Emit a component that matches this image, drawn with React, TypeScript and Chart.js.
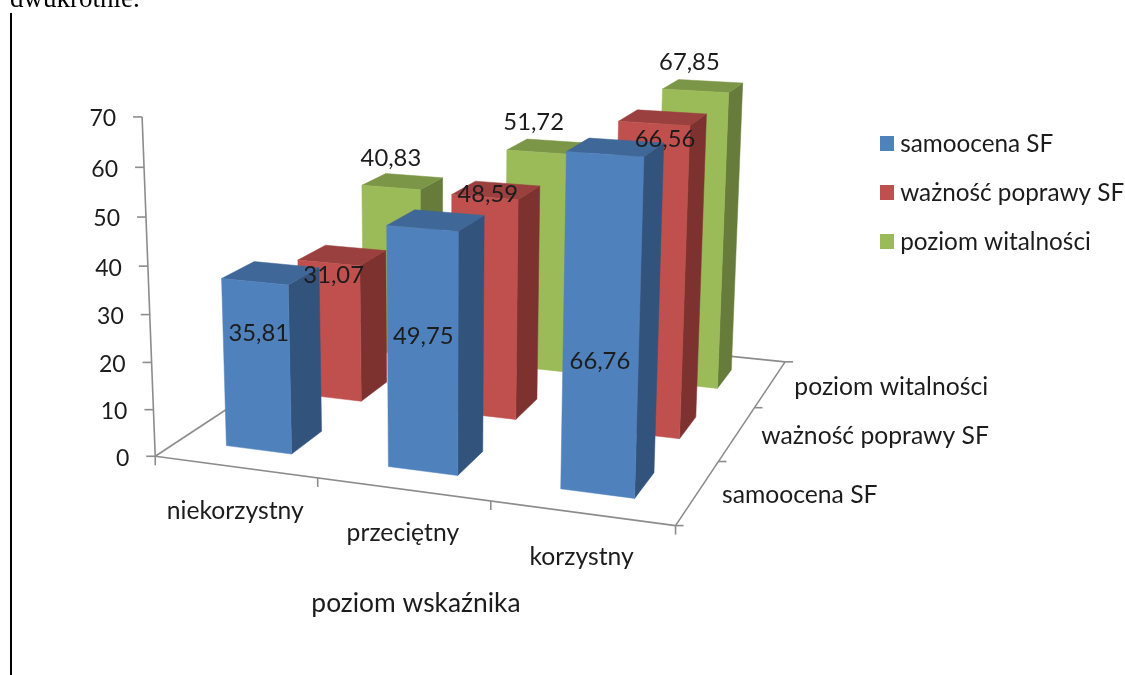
import React, { useEffect, useRef } from "react";
import { Chart, registerables } from "chart.js";
Chart.register(...registerables);

const categories = ["niekorzystny", "przeciętny", "korzystny"];
const seriesNames = ["samoocena SF", "ważność poprawy SF", "poziom witalności"];
const samoocena = [35.81, 49.75, 66.76];
const waznosc = [31.07, 48.59, 66.56];
const witalnosc = [40.83, 51.72, 67.85];
const axisTitle = "poziom wskaźnika";

const FRONT = ["#4F81BD", "#C0504D", "#9BBB59"];
const TOP = ["#3F6797", "#9A403E", "#7C9647"];
const SIDE = ["#32537C", "#7E3230", "#677C3B"];
const BAR = 0.41;
const FONT = "Lato";
const INK = "#1c1c1c";

// Camera of the 3-D scene: maps (category decimal, depth decimal, value decimal) to pixels / 1000.
const CAMERA = [
  0.45823, 0.30364, -0.01946, 0.15524,
  0.02102, -0.05459, -0.34455, 0.45627,
  -0.09189, 0.26003, -0.04443,
];
const proj = (x: number, y: number, z: number): [number, number] => {
  const P = CAMERA;
  const w = P[8] * x + P[9] * y + P[10] * z + 1;
  return [
    (1000 * (P[0] * x + P[1] * y + P[2] * z + P[3])) / w,
    (1000 * (P[4] * x + P[5] * y + P[6] * z + P[7])) / w,
  ];
};

// Where each value label sits, relative to the top of its bar's front face.
const labelShift = [
  [[4, 52], [1, 108], [-5, 207]],
  [[5, 12], [3, -3], [11, 16]],
  [[0, -29], [-4, -30], [-6, -29]],
];

const swatch = (color: string) => {
  const c = document.createElement("canvas");
  c.width = 14;
  c.height = 15;
  const g = c.getContext("2d")!;
  g.fillStyle = color;
  g.fillRect(0, 0, 14, 15);
  return c;
};

const scene = {
  id: "scene",
  beforeDraw(chart: any) {
    const lg = chart.legend;
    lg.left = 885 - 24.7;
    lg.right = 1125;
    lg.top = 107;
    lg.bottom = 290;
  },
  beforeDatasetsDraw(chart: any) {
    const ctx = chart.ctx as CanvasRenderingContext2D;
    const xs = chart.scales.x, ys = chart.scales.y;
    const line = (a: [number, number], b: [number, number]) => {
      ctx.beginPath(); ctx.moveTo(a[0], a[1]); ctx.lineTo(b[0], b[1]); ctx.stroke();
    };
    const poly = (pts: [number, number][], col: string) => {
      ctx.fillStyle = col; ctx.strokeStyle = col; ctx.lineWidth = 0.5;
      ctx.beginPath(); pts.forEach((p, i) => (i ? ctx.lineTo(p[0], p[1]) : ctx.moveTo(p[0], p[1])));
      ctx.closePath(); ctx.fill(); ctx.stroke();
    };
    ctx.save();
    ctx.strokeStyle = "#8C8C8C"; ctx.lineWidth = 1.6;
    line(proj(0, 0, 0), proj(1, 0, 0));
    line(proj(1, 0, 0), proj(1, 1, 0));
    line(proj(1, 1, 0), proj(0, 1, 0));
    line(proj(0, 1, 0), proj(0, 0, 0));
    line(proj(0, 0, 0), proj(0, 0, 1));
    const tickLeft = (p: [number, number], l = 9) => line(p, [p[0] - l, p[1]]);
    const tickRight = (p: [number, number], l = 8) => line(p, [p[0] + l, p[1]]);
    const tickDown = (p: [number, number], l = 9) => line(p, [p[0], p[1] + l]);
    ys.ticks.forEach((t: any) => tickLeft(proj(0, 0, ys.getDecimalForPixel(ys.getPixelForValue(t.value)))));
    for (let i = 0; i <= 3; i++) tickDown(proj(i / 3, 0, 0));
    for (let i = 0; i <= 3; i++) tickRight(proj(1, i / 3, 0));

    const half = BAR / 2 / 3;
    for (let s = 2; s >= 0; s--) {
      const meta = chart.getDatasetMeta(s);
      categories.forEach((_, c) => {
        const cx = xs.getDecimalForPixel(xs.getPixelForValue(c));
        const cy = (s + 0.5) / 3;
        const h = ys.getDecimalForPixel(meta.data[c].y);
        const x0 = cx - half, x1 = cx + half, y0 = cy - half, y1 = cy + half;
        poly([proj(x1, y0, 0), proj(x1, y1, 0), proj(x1, y1, h), proj(x1, y0, h)], SIDE[s]);
        poly([proj(x0, y0, h), proj(x1, y0, h), proj(x1, y1, h), proj(x0, y1, h)], TOP[s]);
        poly([proj(x0, y0, 0), proj(x1, y0, 0), proj(x1, y0, h), proj(x0, y0, h)], FRONT[s]);
      });
    }

    ctx.fillStyle = INK;
    ctx.textBaseline = "middle";
    ctx.font = `23px ${FONT}`;
    ctx.textAlign = "right";
    ys.ticks.forEach((t: any) => {
      const p = proj(0, 0, ys.getDecimalForPixel(ys.getPixelForValue(t.value)));
      ctx.fillText(String(t.value), p[0] - 26, p[1] + 2);
    });
    ctx.font = `24.7px ${FONT}`;
    ctx.textAlign = "center";
    categories.forEach((name, c) => {
      const p = proj(xs.getDecimalForPixel(xs.getPixelForValue(c)), 0, 0);
      ctx.fillText(name, p[0], p[1] + 44);
    });
    ctx.textAlign = "left";
    seriesNames.forEach((name, s) => {
      const p = proj(1, (s + 0.5) / 3, 0);
      ctx.fillText(name, p[0] + 24, p[1] + 3);
    });
    ctx.textAlign = "center";
    ctx.font = `26.4px ${FONT}`;
    ctx.fillText(axisTitle, 416, 603);
    ctx.font = `23.8px ${FONT}`;
    for (let s = 0; s < 3; s++) {
      const meta = chart.getDatasetMeta(s);
      categories.forEach((_, c) => {
        const cx = xs.getDecimalForPixel(xs.getPixelForValue(c));
        const cy = (s + 0.5) / 3;
        const h = ys.getDecimalForPixel(meta.data[c].y);
        const p = proj(cx, cy - half, h);
        const [dx, dy] = labelShift[s][c];
        const v = chart.data.datasets[s].data[c] as number;
        ctx.fillText(v.toFixed(2).replace(".", ","), p[0] + dx, p[1] + dy);
      });
    }
    ctx.restore();
    return false;
  },
};

export default function App() {
  const ref = useRef<HTMLCanvasElement>(null);
  useEffect(() => {
    const chart = new Chart(ref.current!, {
      type: "bar",
      data: {
        labels: categories,
        datasets: [
          { label: seriesNames[0], data: samoocena, backgroundColor: FRONT[0] },
          { label: seriesNames[1], data: waznosc, backgroundColor: FRONT[1] },
          { label: seriesNames[2], data: witalnosc, backgroundColor: FRONT[2] },
        ],
      },
      options: {
        animation: false,
        responsive: false,
        scales: {
          x: { display: false },
          y: { display: false, min: 0, max: 70, ticks: { stepSize: 10 } },
        },
        plugins: {
          legend: {
            position: "right",
            align: "start",
            labels: {
              usePointStyle: true,
              pointStyleWidth: 3,
              boxHeight: 14,
              padding: 24.7,
              color: INK,
              font: { family: FONT, size: 24.3 },
              generateLabels: () =>
                seriesNames.map((text, i) => ({
                  text,
                  datasetIndex: i,
                  fontColor: INK,
                  fillStyle: FRONT[i],
                  strokeStyle: FRONT[i],
                  lineWidth: 0,
                  pointStyle: swatch(FRONT[i]),
                })),
            },
          },
          tooltip: { enabled: false },
        },
      },
      plugins: [scene],
    } as any);
    return () => chart.destroy();
  }, []);
  return (
    <div style={{ position: "absolute", left: 0, top: 0, width: 1125, height: 675, overflow: "hidden", background: "#fff" }}>
      <canvas ref={ref} width={1125} height={675} style={{ position: "absolute", left: 0, top: 0, filter: "blur(0.4px)" }} />
      <div style={{ position: "absolute", left: 10, top: -17, font: "27px 'Liberation Serif'", color: "#000", whiteSpace: "nowrap" }}>dwukrotnie.</div>
      <div style={{ position: "absolute", left: 10, top: 13, width: 1.5, height: 662, background: "#000" }} />
    </div>
  );
}
